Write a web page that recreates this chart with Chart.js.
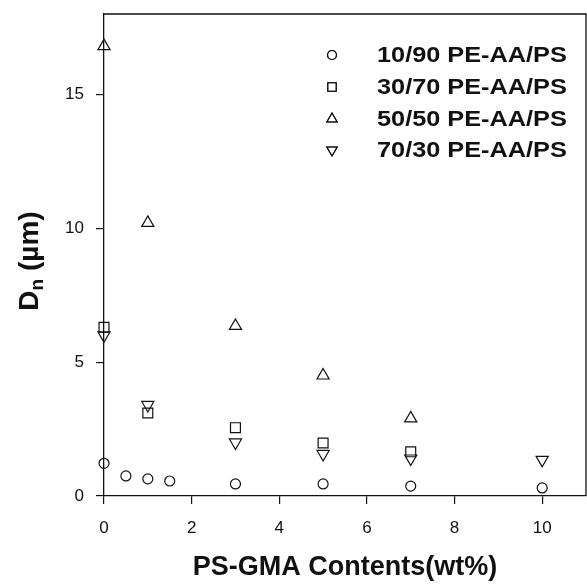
<!DOCTYPE html>
<html>
<head>
<meta charset="utf-8">
<script src="https://cdn.jsdelivr.net/npm/chart.js@4.4.1/dist/chart.umd.min.js"></script>
<style>
  html, body { margin: 0; padding: 0; background: #fff; overflow: hidden; }
  #wrap { width: 587px; height: 584px; }
  canvas { display: block; }
</style>
</head>
<body>
<div id="wrap"><canvas id="chart"></canvas></div>
<script>
// series names and values
const seriesNames = ['10/90 PE-AA/PS', '30/70 PE-AA/PS', '50/50 PE-AA/PS', '70/30 PE-AA/PS'];

const x1090 = [0, 0.5, 1, 1.5, 3, 5, 7, 10];
const y1090 = [1.22, 0.75, 0.64, 0.56, 0.45, 0.45, 0.37, 0.3];

const x3070 = [0, 1, 3, 5, 7];
const y3070 = [6.3, 3.1, 2.55, 1.98, 1.65];

const x5050 = [0, 1, 3, 5, 7];
const y5050 = [16.8, 10.2, 6.35, 4.5, 2.9];

const x7030 = [0, 1, 3, 5, 7, 10];
const y7030 = [6.0, 3.4, 2.0, 1.57, 1.4, 1.35];

const xTicks = [0, 2, 4, 6, 8, 10];
const yTicks = [0, 5, 10, 15];

const FONT = "'Liberation Sans', Arial, Helvetica, sans-serif";
const INK = '#111';

function toPoints(xs, ys) {
    return xs.map((v, i) => ({ x: v, y: ys[i] }));
}

function makeSet(name, xs, ys, style, radius, rotation) {
    return {
        label: name,
        data: toPoints(xs, ys),
        pointStyle: style,
        pointRadius: radius,
        pointHoverRadius: radius,
        pointRotation: rotation || 0,
        borderColor: INK,
        backgroundColor: 'rgba(0,0,0,0)',
        pointBorderWidth: 1.2,
        showLine: false,
        clip: false
    };
}

// legend drawn inside the plot, top right
const insideLegend = {
    id: 'insideLegend',
    afterDraw(chart) {
        const ctx = chart.ctx;
        const rows = [55, 87, 119, 150];
        ctx.save();
        chart.data.datasets.forEach((ds, i) => {
            const y = rows[i];
            Chart.helpers.drawPoint(ctx, {
                pointStyle: ds.pointStyle,
                rotation: ds.pointRotation,
                radius: ds.pointStyle === 'circle' ? 4.5 : 6,
                borderWidth: 1.1
            }, 332, y);
            ctx.strokeStyle = INK;
            ctx.lineWidth = 1.1;
            ctx.stroke();
            ctx.save();
            ctx.translate(377, y);
            ctx.scale(1.15, 1);
            ctx.fillStyle = INK;
            ctx.font = 'bold 22px ' + FONT;
            ctx.textBaseline = 'middle';
            ctx.fillText(ds.label, 0, 1);
            ctx.restore();
        });
        ctx.restore();
    }
};

// top and right edges of the frame
const frame = {
    id: 'frame',
    beforeDatasetsDraw(chart) {
        const a = chart.chartArea;
        const ctx = chart.ctx;
        ctx.save();
        ctx.strokeStyle = INK;
        ctx.lineWidth = 1.3;
        ctx.beginPath();
        ctx.moveTo(a.left, a.top);
        ctx.lineTo(a.right, a.top);
        ctx.lineTo(a.right, a.bottom);
        ctx.stroke();
        ctx.restore();
    }
};

// y title with subscript n
const yTitle = {
    id: 'yTitle',
    afterDraw(chart) {
        const ctx = chart.ctx;
        const main = 'bold 28px ' + FONT;
        const sub = 'bold 19px ' + FONT;
        ctx.save();
        ctx.font = main;
        const wD = ctx.measureText('D').width;
        const wRest = ctx.measureText(' (\u00b5m)').width;
        ctx.font = sub;
        const wN = ctx.measureText('n').width;
        const total = wD + wN + wRest;
        ctx.translate(38, 261);
        ctx.rotate(-Math.PI / 2);
        ctx.fillStyle = INK;
        ctx.textBaseline = 'alphabetic';
        let x = -total / 2;
        ctx.font = main;
        ctx.fillText('D', x, 0);
        x += wD;
        ctx.font = sub;
        ctx.fillText('n', x, 5);
        x += wN;
        ctx.font = main;
        ctx.fillText(' (\u00b5m)', x, 0);
        ctx.restore();
    }
};

new Chart(document.getElementById('chart'), {
    type: 'scatter',
    data: {
        datasets: [
            makeSet(seriesNames[0], x1090, y1090, 'circle', 5),
            makeSet(seriesNames[1], x3070, y3070, 'rect', 7),
            makeSet(seriesNames[2], x5050, y5050, 'triangle', 7),
            makeSet(seriesNames[3], x7030, y7030, 'triangle', 7, 180)
        ]
    },
    options: {
        responsive: true,
        maintainAspectRatio: false,
        animation: false,
        layout: { autoPadding: false, padding: { top: 14, right: 1, left: 0, bottom: 0 } },
        plugins: {
            legend: { display: false },
            tooltip: { enabled: false }
        },
        scales: {
            x: {
                type: 'linear',
                min: 0,
                max: 11,
                afterBuildTicks: s => { s.ticks = xTicks.map(v => ({ value: v })); },
                afterFit: s => { s.height = 88; s.paddingLeft = 0; s.paddingRight = 0; },
                ticks: { font: { size: 17, family: FONT }, color: INK, padding: 14, maxRotation: 0, autoSkip: false },
                grid: { drawOnChartArea: false, drawTicks: true, tickLength: 8, color: INK, lineWidth: 1.2 },
                border: { display: true, color: INK, width: 1.3 },
                title: {
                    display: true,
                    text: 'PS-GMA Contents(wt%)',
                    font: { size: 27, weight: 'bold', family: FONT },
                    color: INK,
                    padding: { top: 0, bottom: 0 }
                }
            },
            y: {
                type: 'linear',
                min: 0,
                max: 18,
                afterBuildTicks: s => { s.ticks = yTicks.map(v => ({ value: v })); },
                afterFit: s => { s.width = 104; s.paddingTop = 0; s.paddingBottom = 0; },
                ticks: { font: { size: 17, family: FONT }, color: INK, padding: 12, autoSkip: false },
                grid: { drawOnChartArea: false, drawTicks: true, tickLength: 8, color: INK, lineWidth: 1.2 },
                border: { display: true, color: INK, width: 1.3 }
            }
        }
    },
    plugins: [frame, insideLegend, yTitle]
});
</script>
</body>
</html>
